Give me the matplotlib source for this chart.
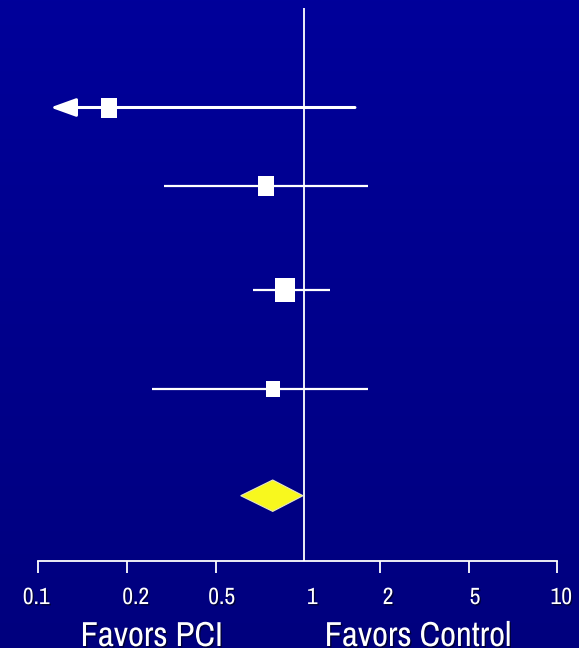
import numpy as np
import matplotlib
matplotlib.use("Agg")
import matplotlib.pyplot as plt
import matplotlib.patheffects as pe
from matplotlib.transforms import ScaledTranslation
from matplotlib.ticker import FixedLocator, NullLocator
from matplotlib.colors import LinearSegmentedColormap

# ---------------- data ----------------
studies = ["Study 1", "Study 2", "Study 3", "Study 4"]
odds_ratio = [0.174, 0.741, 0.862, 0.780]
ci_low = [0.110, 0.294, 0.668, 0.259]
ci_high = [1.59, 1.79, 1.265, 1.79]
ci_low_truncated = [True, False, False, False]   # lower bound beyond the axis -> arrow

pooled_or = 0.781
pooled_low = 0.608
pooled_high = 0.99

tick_values = [0.1, 0.2, 0.5, 1, 2, 5, 10]
tick_labels = ["0.1", "0.2", "0.5", "1", "2", "5", "10"]
left_label = "Favors PCI"
right_label = "Favors Control"

# ---------------- layout / style ----------------
W, H = 579, 648
DPI = 100
# the printed axis is not a strict log axis: tick positions (pixels) per tick value
tick_px = [38.3, 126.7, 215.7, 304.3, 380.0, 469.0, 557.3]
row_y = [107.5, 185.7, 290.0, 388.7]        # vertical position of study rows (px from top)
pooled_y = 495.7
diamond_half_h = 15.7
box_heights_pt = [13.7, 13.9, 17.5, 12.2]
ci_lw = [2.2, 1.6, 1.6, 1.6]
label_dx_px = [-2, 9, 6, 8, 8, 6, 4]
FONT = ["Archivo Narrow", "Liberation Sans", "DejaVu Sans"]

log_ticks = np.log10(tick_values)


def fwd(x):
    x = np.clip(np.asarray(x, dtype=float), 1e-6, None)
    lx = np.log10(x)
    out = np.interp(lx, log_ticks, tick_px)
    out = np.where(lx < log_ticks[0], tick_px[0] + (lx - log_ticks[0]) * 294, out)
    out = np.where(lx > log_ticks[-1], tick_px[-1] + (lx - log_ticks[-1]) * 294, out)
    return out


def inv(p):
    p = np.asarray(p, dtype=float)
    out = np.interp(p, tick_px, log_ticks)
    out = np.where(p < tick_px[0], log_ticks[0] + (p - tick_px[0]) / 294, out)
    out = np.where(p > tick_px[-1], log_ticks[-1] + (p - tick_px[-1]) / 294, out)
    return 10 ** out


fig = plt.figure(figsize=(W / DPI, H / DPI), dpi=DPI)

# background gradient
bg = fig.add_axes([0, 0, 1, 1], zorder=-10)
grad = np.linspace(0, 1, 256).reshape(-1, 1)
cmap = LinearSegmentedColormap.from_list("bg", ["#00009A", "#00007E"])
bg.imshow(grad, aspect="auto", cmap=cmap, extent=[0, 1, 0, 1], origin="upper")
bg.set_axis_off()

ax_top, ax_bot = 8.0, 560.5
ax = fig.add_axes([tick_px[0] / W, (H - ax_bot) / H,
                   (tick_px[-1] - tick_px[0]) / W, (ax_bot - ax_top) / H])
ax.set_facecolor("none")
ax.set_xscale("function", functions=(fwd, inv))
ax.set_xlim(tick_values[0], tick_values[-1])
ax.set_ylim(ax_bot, ax_top)

# reference line at 1
ax.axvline(1, color="white", lw=1.3, zorder=2)

# study rows
box_marker = [(-0.41, -0.5), (0.41, -0.5), (0.41, 0.5), (-0.41, 0.5), (-0.41, -0.5)]
for i in range(len(studies)):
    y = row_y[i]
    if ci_low_truncated[i]:
        ax.annotate("", xy=(ci_low[i], y), xytext=(ci_high[i], y),
                    arrowprops=dict(arrowstyle="-|>,head_length=15.5,head_width=5.6",
                                    mutation_scale=1, lw=ci_lw[i], color="white",
                                    shrinkA=0, shrinkB=0), zorder=3)
    else:
        ax.plot([ci_low[i], ci_high[i]], [y, y], color="white", lw=ci_lw[i],
                solid_capstyle="butt", zorder=3)
    ax.plot([odds_ratio[i]], [y], marker=box_marker, markersize=box_heights_pt[i],
            color="white", markeredgewidth=0, linestyle="none", zorder=4)

# pooled diamond
ax.fill([pooled_low, pooled_or, pooled_high, pooled_or],
        [pooled_y, pooled_y - diamond_half_h, pooled_y, pooled_y + diamond_half_h],
        facecolor="#F8F81E", edgecolor="#E8E8C0", lw=0.8, zorder=4)

# axes styling
for s in ["top", "left", "right"]:
    ax.spines[s].set_visible(False)
ax.spines["bottom"].set_color("white")
ax.spines["bottom"].set_linewidth(1.3)
ax.yaxis.set_major_locator(NullLocator())
ax.xaxis.set_major_locator(FixedLocator(tick_values))
ax.xaxis.set_minor_locator(NullLocator())
ax.set_xticklabels(tick_labels)
ax.tick_params(axis="x", direction="out", length=8.6, width=1.3, color="white",
               labelcolor="white", labelsize=17, pad=10.5)
shadow = [pe.SimplePatchShadow(offset=(1.0, -1.0), shadow_rgbFace="black", alpha=0.55),
          pe.Normal()]
ticks = ax.xaxis.get_major_ticks()
for i, t in enumerate(ticks):
    if tick_values[i] == 1:
        t.tick1line.set_visible(False)
    lab = t.label1
    lab.set_fontfamily(FONT)
    lab.set_path_effects(shadow)
    lab.set_transform(lab.get_transform() +
                      ScaledTranslation(label_dx_px[i] / DPI, 0, fig.dpi_scale_trans))

# bottom captions
fig.text(151.6 / W, (H - 646) / H, left_label, ha="center", va="baseline",
         color="white", fontsize=25, family=FONT, path_effects=shadow)
fig.text(418.0 / W, (H - 646) / H, right_label, ha="center", va="baseline",
         color="white", fontsize=25, family=FONT, path_effects=shadow)

fig.savefig("out.png", dpi=DPI)
